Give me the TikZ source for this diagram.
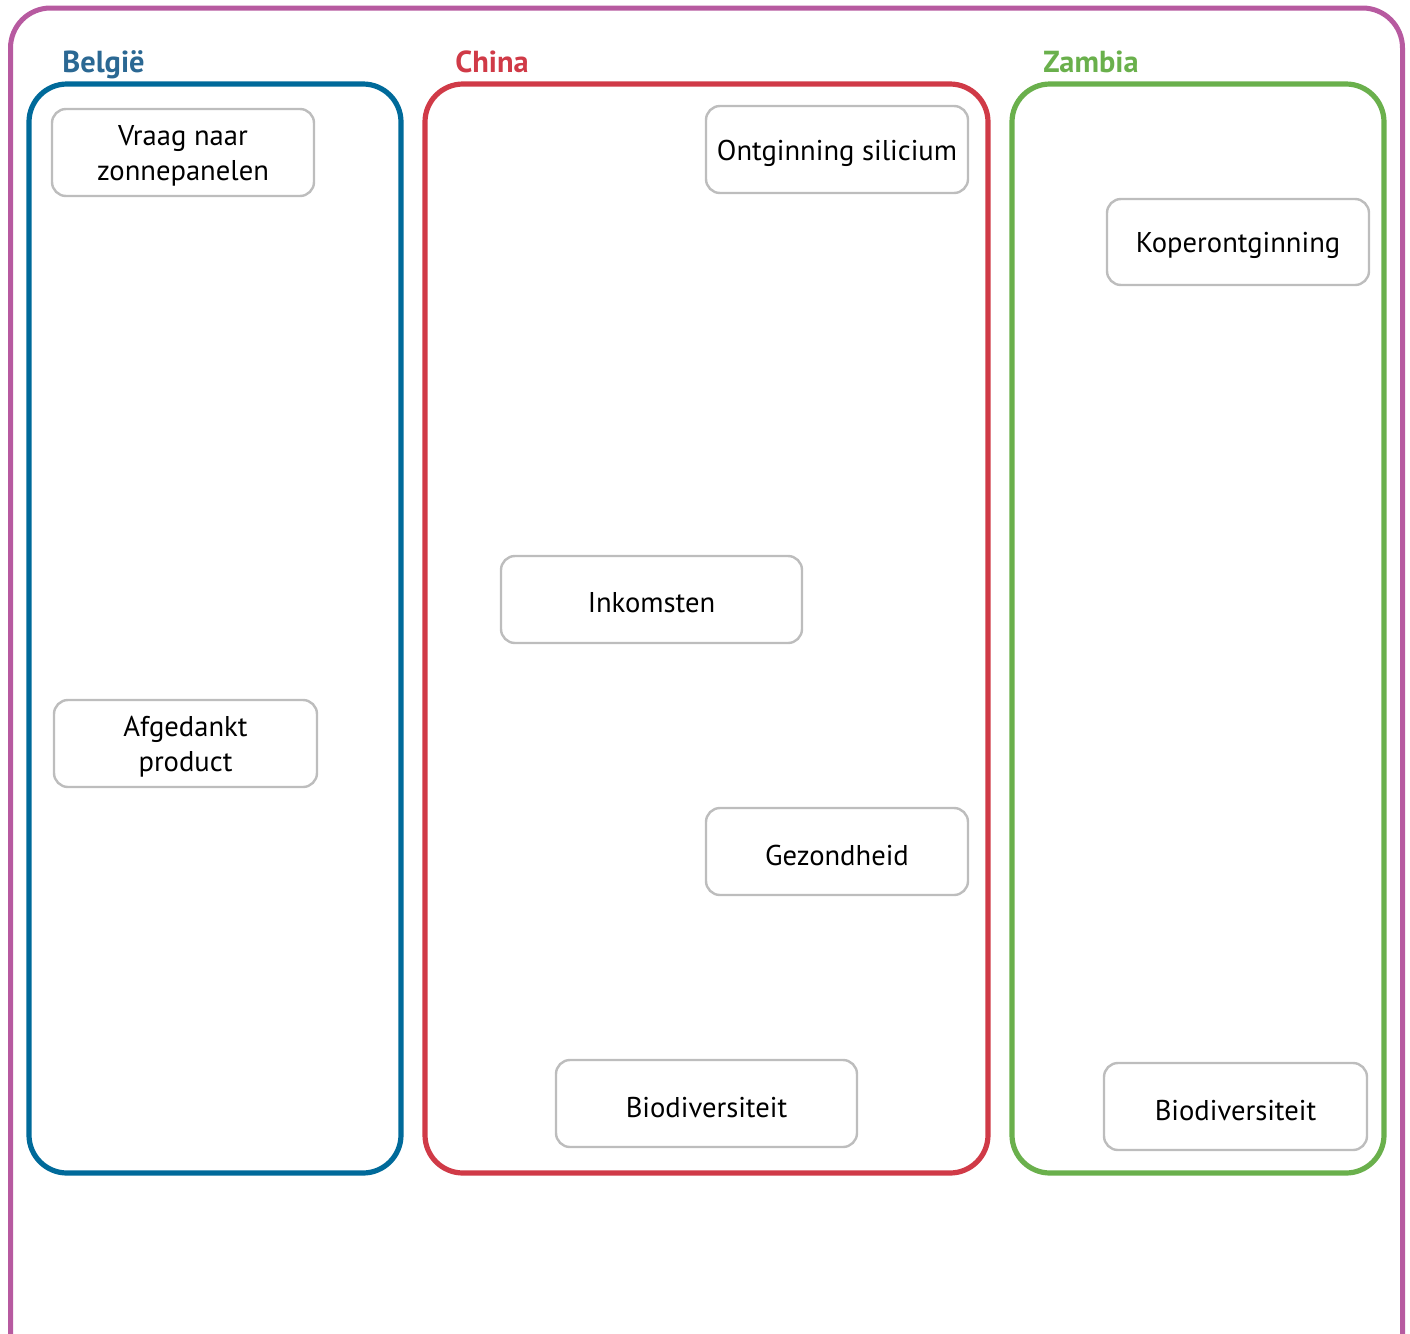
\documentclass[tikz,border=0pt]{standalone}
\usepackage{fontspec}
\setmainfont{PT Sans}
\definecolor{purp}{HTML}{B75AA0}
\definecolor{bel}{HTML}{006A9A}
\definecolor{belt}{HTML}{2B6893}
\definecolor{chi}{HTML}{D03A47}
\definecolor{zam}{HTML}{6AB04C}
\definecolor{gbox}{HTML}{BDBDBD}
\begin{document}
\begin{tikzpicture}[x=0.5pt,y=-0.5pt,
  region/.style={line width=2.6pt,rounded corners=19pt},
  item/.style={draw=gbox,line width=1.2pt,rounded corners=7pt,fill=white,inner sep=0pt},
  itemtext/.style={font=\fontsize{14.3}{17.5}\selectfont,align=center,inner sep=0pt,yshift=-1.8pt},
  title/.style={font=\fontsize{15.2}{18}\selectfont\bfseries,anchor=base west,inner sep=0pt}]
\useasboundingbox (0,0) rectangle (1410,1334);
\clip (0,0) rectangle (1410,1334);
\draw[purp,line width=2.5pt,rounded corners=20pt] (10.5,1400) -- (10.5,8) -- (1402.5,8) -- (1402.5,1400);
\draw[region,bel] (29,84) rectangle (401,1173);
\draw[region,chi] (425,84) rectangle (988,1173);
\draw[region,zam] (1012,84) rectangle (1384,1173);
\node[title,text=belt] (tbel) at (62,72) {België};
\node[title,text=chi] (tchi) at (455,72) {China};
\node[title,text=zam] (tzam) at (1043,72) {Zambia};
\node[item,minimum width=131pt,minimum height=43.5pt] (vraag) at (183,152.5) {};
\node[itemtext] at (vraag.center) {Vraag naar\\zonnepanelen};
\node[item,minimum width=131.5pt,minimum height=43.5pt] (afg) at (185.5,743.5) {};
\node[itemtext] at (afg.center) {Afgedankt\\product};
\node[item,minimum width=131pt,minimum height=43.5pt] (ontg) at (837,149.5) {};
\node[itemtext] at (ontg.center) {Ontginning silicium};
\node[item,minimum width=150.5pt,minimum height=43.5pt] (ink) at (651.5,599.5) {};
\node[itemtext] at (ink.center) {Inkomsten};
\node[item,minimum width=131pt,minimum height=43.5pt] (gez) at (837,851.5) {};
\node[itemtext] at (gez.center) {Gezondheid};
\node[item,minimum width=150.5pt,minimum height=43.5pt] (bioc) at (706.5,1103.5) {};
\node[itemtext] at (bioc.center) {Biodiversiteit};
\node[item,minimum width=131pt,minimum height=43pt] (kop) at (1238,242) {};
\node[itemtext] at (kop.center) {Koperontginning};
\node[item,minimum width=131.5pt,minimum height=43.5pt] (bioz) at (1235.5,1106.5) {};
\node[itemtext] at (bioz.center) {Biodiversiteit};
\end{tikzpicture}
\end{document}
